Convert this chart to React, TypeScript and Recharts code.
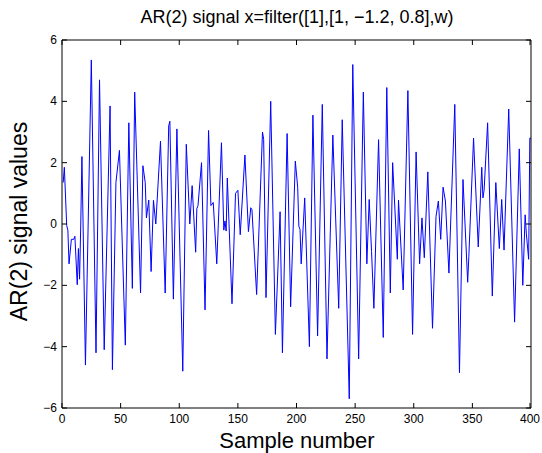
import { Line, LineChart, XAxis, YAxis } from "recharts";

// Vertices of the AR(2) trace (sample index, value)
const SAMPLES = [
  1, 2, 4, 5, 6, 8, 10, 11, 13, 14, 15, 16, 17, 20, 25, 29, 32, 36, 41, 43,
  46, 49, 54, 57, 60, 62, 67, 69, 71, 72, 74, 76, 78, 80, 84, 88, 91, 92, 95, 98,
  103, 106, 109, 111, 114, 115, 116, 119, 122, 125, 127, 129, 132, 136, 138, 139, 140, 141, 145, 148,
  150, 152, 156, 159, 161, 162, 166, 171, 172, 174, 178, 182, 186, 188, 192, 195, 199, 201, 202, 203,
  204, 207, 211, 214, 218, 222, 226, 231, 236, 239, 245, 248, 253, 257, 260, 262, 264, 266, 270, 274,
  277, 280, 282, 286, 287, 291, 295, 299, 302, 305, 307, 309, 312, 316, 319, 321, 323, 325, 327, 330,
  335, 339, 342, 346, 347, 351, 355, 358, 359, 360, 363, 367, 370, 373, 375, 377, 381, 386, 390, 393,
  395, 396, 398, 399, 400,
];

const VALUES = [
  1.35, 1.85, -0.05, -0.2, -1.3, -0.5, -0.5, -0.4, -1.98, -0.8, -1.8, 0.0, 2.2, -4.6, 5.35, -4.2, 4.7, -4.1, 3.85, -4.75,
  1.35, 2.4, -3.95, 3.3, -2.1, 4.3, -2.25, 1.9, 1.35, 0.2, 0.78, -1.55, 0.77, 0.0, 2.7, -2.25, 3.2, 3.35, -2.45, 3.1,
  -4.8, 2.6, 0.0, 1.25, -0.92, 0.5, 0.6, 2.0, -2.8, 3.05, 0.6, 0.7, -1.3, 2.65, -0.2, 0.1, -0.23, 1.5, -2.6, 1.0,
  1.1, -0.35, 2.25, -0.25, 0.53, 0.47, -2.3, 3.0, 2.76, -2.4, 4.0, -3.6, 0.4, -4.2, 2.95, -2.7, 2.05, 1.2, -0.07, -0.18,
  -1.3, 0.85, -4.0, 3.55, -3.65, 3.9, -4.4, 2.9, -2.75, 3.4, -5.7, 5.2, -4.4, 4.3, -1.3, 0.8, -0.9, -2.75, 2.75, -3.7,
  4.45, -2.25, 2.0, -1.15, 0.78, -2.15, 4.35, -3.6, 2.35, -1.3, 0.2, -1.1, 1.7, -3.4, 0.25, 0.75, -0.5, 1.2, 0.75, -1.6,
  3.9, -4.85, 1.45, -1.9, -1.05, 2.8, -0.75, 1.85, 0.85, 1.1, 3.3, -2.35, 1.35, -0.8, 0.8, -0.85, 3.75, -3.2, 2.45, -2.0,
  0.3, -0.3, -1.15, 2.8, 2.8,
];

const X_TICKS = [0, 50, 100, 150, 200, 250, 300, 350, 400];
const Y_TICKS = [-6, -4, -2, 0, 2, 4, 6];

const FONT = "'Liberation Sans', Arial, Helvetica, sans-serif";

const data = SAMPLES.map((s, i) => ({ s, v: VALUES[i] }));

function BottomTick({ x, y, payload }: any) {
  return (
    <g>
      <line x1={x} x2={x} y1={y} y2={y - 5} stroke="#000" />
      <text x={x} y={y + 15} textAnchor="middle" fontSize={12} fontFamily={FONT} fill="#000">
        {payload.value}
      </text>
    </g>
  );
}

function TopTick({ x, y }: any) {
  return <line x1={x} x2={x} y1={y} y2={y + 5} stroke="#000" />;
}

function LeftTick({ x, y, payload }: any) {
  return (
    <g>
      <line x1={x} x2={x + 5} y1={y} y2={y} stroke="#000" />
      <text x={x - 5} y={y + 4} textAnchor="end" fontSize={12} fontFamily={FONT} fill="#000">
        {payload.value < 0 ? `\u2212${-payload.value}` : payload.value}
      </text>
    </g>
  );
}

function RightTick({ x, y }: any) {
  return <line x1={x} x2={x - 5} y1={y} y2={y} stroke="#000" />;
}

export default function App() {
  return (
    <div style={{ position: "absolute", left: 0, top: 0, width: 542, height: 453, background: "#fff", fontFamily: FONT }}>
      <LineChart width={542} height={453} data={data} margin={{ top: 39, right: 10, bottom: 44, left: 12 }}>
        <XAxis
          dataKey="s" type="number" domain={[0, 400]} ticks={X_TICKS}
          tickSize={0} tickMargin={0} tick={<BottomTick />}
          axisLine={{ stroke: "#000" }} height={1}
        />
        <XAxis
          xAxisId="top" orientation="top" dataKey="s" type="number" domain={[0, 400]} ticks={X_TICKS}
          tickSize={0} tickMargin={0} tick={<TopTick />}
          axisLine={{ stroke: "#000" }} height={1}
        />
        <YAxis
          type="number" domain={[-6, 6]} ticks={Y_TICKS}
          tickSize={0} tickMargin={0} tick={<LeftTick />}
          axisLine={{ stroke: "#000" }} width={50}
        />
        <YAxis
          yAxisId="right" orientation="right" type="number" domain={[-6, 6]} ticks={Y_TICKS}
          tickSize={0} tickMargin={0} tick={<RightTick />}
          axisLine={{ stroke: "#000" }} width={1}
        />
        {/* invisible series so the mirrored top/right axes have something bound to them */}
        <Line
          xAxisId="top" yAxisId="right" dataKey="v" stroke="none"
          dot={false} activeDot={false} isAnimationActive={false}
        />
        <Line
          dataKey="v" stroke="#0000ff" strokeWidth={1}
          dot={false} activeDot={false} isAnimationActive={false}
          type="linear"
        />
      </LineChart>

      <div style={{ position: "absolute", left: 0, width: 594, top: 6, textAlign: "center", fontSize: 18, lineHeight: "22px" }}>
        AR(2) signal x=filter([1],[1, {"\u2212"}1.2, 0.8],w)
      </div>
      <div style={{ position: "absolute", left: 0, width: 594, top: 427, textAlign: "center", fontSize: 22, lineHeight: "27px" }}>
        Sample number
      </div>
      <div style={{ position: "absolute", left: 19, top: 222, width: 0, height: 0 }}>
        <div
          style={{
            position: "absolute", left: -150, top: -14, width: 300, textAlign: "center",
            fontSize: 23, lineHeight: "27px", transform: "rotate(-90deg)", whiteSpace: "nowrap",
          }}
        >
          AR(2) signal values
        </div>
      </div>
    </div>
  );
}
